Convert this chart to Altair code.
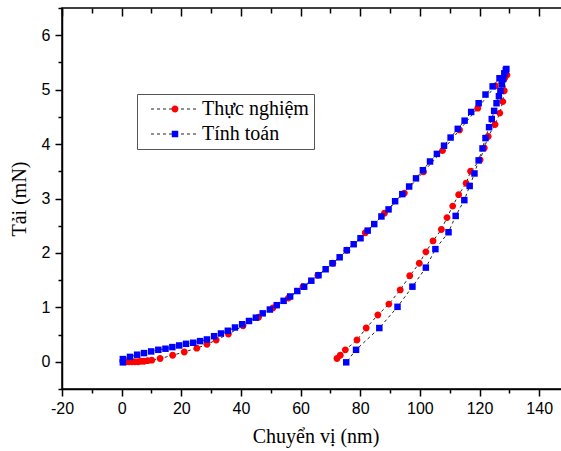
import altair as alt
import pandas as pd

series_names = ["Thực nghiệm", "Tính toán"]

# Thực nghiệm (experiment): loading then unloading
exp_load_x = [0.5, 1.5, 2.5, 3.5, 4.5, 5.5, 6.5, 7.5, 8.7, 10.1, 12.9, 17.1, 21.0, 25.2, 28.6, 31.7,
              35.8, 40.7, 45.9, 50.7, 55.9, 60.8, 65.8, 70.8, 75.5, 81.7, 88.1, 94.8, 101.2, 107.6,
              113.3, 119.4, 125.3, 128.5]
exp_load_y = [0.00, 0.00, 0.00, 0.00, 0.00, 0.00, 0.01, 0.01, 0.02, 0.03, 0.06, 0.12, 0.18, 0.25, 0.32, 0.40,
              0.51, 0.66, 0.82, 0.99, 1.17, 1.38, 1.59, 1.81, 2.05, 2.37, 2.73, 3.10, 3.49, 3.88,
              4.26, 4.66, 5.07, 5.22]
exp_unload_x = [129.2, 128.3, 127.8, 126.8, 125.2, 122.9, 121.6, 120.2, 117.0, 115.5, 113.0, 111.0, 109.1,
                107.2, 104.4, 102.0, 99.8, 96.6, 93.4, 89.6, 85.9, 82.0, 78.9, 75.0, 73.3, 72.2]
exp_unload_y = [5.27, 4.98, 4.78, 4.57, 4.36, 4.14, 3.93, 3.71, 3.50, 3.28, 3.07, 2.86, 2.65,
                2.43, 2.22, 2.02, 1.81, 1.58, 1.32, 1.06, 0.86, 0.62, 0.40, 0.22, 0.12, 0.06]

# Tính toán (calculation): loading then unloading
calc_load_x = [0.4, 0.4, 2.8, 5.2, 7.5, 9.9, 12.3, 14.7, 17.0, 19.3, 21.6, 24.0, 26.3, 28.6, 31.0, 33.3,
               35.6, 38.0, 40.4, 42.7, 45.0, 47.3, 49.7, 52.0, 54.3, 56.5, 58.9, 61.2, 63.6, 66.0,
               68.4, 70.7, 73.1, 75.5, 77.8, 80.1, 82.5, 84.7, 87.1, 89.5, 91.7, 94.1, 96.4, 98.7,
               101.0, 103.4, 105.7, 108.1, 110.3, 112.7, 115.0, 117.2, 119.7, 122.0, 124.4, 126.7, 128.8]
calc_load_y = [-0.01, 0.05, 0.09, 0.13, 0.16, 0.19, 0.22, 0.24, 0.27, 0.30, 0.33, 0.35, 0.38, 0.41, 0.47, 0.52,
               0.57, 0.63, 0.69, 0.75, 0.81, 0.89, 0.96, 1.04, 1.12, 1.20, 1.30, 1.38, 1.49, 1.59,
               1.70, 1.81, 1.92, 2.05, 2.16, 2.27, 2.41, 2.53, 2.67, 2.80, 2.95, 3.08, 3.22, 3.37,
               3.52, 3.68, 3.82, 3.97, 4.12, 4.28, 4.43, 4.59, 4.75, 4.91, 5.06, 5.21, 5.36]
calc_unload_x = [129.0, 128.3, 127.9, 127.5, 127.0, 126.5, 125.7, 124.9, 124.1, 123.2, 122.0, 121.0, 119.7,
                 118.3, 116.7, 114.9, 112.0, 109.6, 105.2, 102.0, 97.5, 92.5, 86.4, 78.6, 75.3]
calc_unload_y = [5.38, 5.30, 5.20, 5.10, 4.98, 4.88, 4.75, 4.61, 4.46, 4.31, 4.11, 3.92, 3.70,
                 3.46, 3.23, 2.97, 2.68, 2.38, 2.07, 1.73, 1.38, 1.01, 0.62, 0.22, -0.01]

x_ticks = list(range(-20, 151, 10))
y_ticks = [v / 2 for v in range(-1, 14)]

rows = []
for name, xs, ys in [(series_names[0], exp_load_x + exp_unload_x, exp_load_y + exp_unload_y),
                     (series_names[1], calc_load_x + calc_unload_x, calc_load_y + calc_unload_y)]:
    for i, (xv, yv) in enumerate(zip(xs, ys)):
        rows.append({"series": name, "leg": name, "x": xv, "y": yv, "idx": i})
df = pd.DataFrame(rows)

# marker shapes (unit paths, drawn at symbol size 144 -> scale 6 px)
CIRCLE = "M-0.57,0A0.57,0.57,0,1,1,0.57,0A0.57,0.57,0,1,1,-0.57,0Z"
SQUARE = "M-0.54,-0.54H0.54V0.54H-0.54Z"
DASH_LINE = "M-4,0H4"

xscale = alt.Scale(domain=[-20, 150], nice=False, zero=False)
yscale = alt.Scale(domain=[-0.5, 6.5], nice=False, zero=False)

common_axis = dict(grid=False, tickColor="black", tickWidth=1.5, domainColor="black", domainWidth=1.5,
                   labelFont="Liberation Sans", labelFontSize=16, labelColor="black",
                   titleFont="Liberation Serif", titleFontSize=20, titleFontWeight="normal",
                   titleColor="black", labelOverlap=False, labelFlush=False)

bottom_axis = alt.Axis(orient="bottom", values=x_ticks,
                       labelExpr="datum.value % 20 == 0 ? toString(datum.value) : ''",
                       tickSize={"condition": {"test": "datum.value % 20 == 0", "value": 7}, "value": 4},
                       labelPadding=4, titlePadding=10, **common_axis)
left_axis = alt.Axis(orient="left", values=y_ticks,
                     labelExpr="datum.value % 1 == 0 ? toString(datum.value) : ''",
                     tickSize={"condition": {"test": "datum.value % 1 == 0", "value": 7}, "value": 4},
                     labelPadding=5, titlePadding=12, **common_axis)

top_major = alt.Axis(orient="top", values=list(range(-20, 151, 20)), labels=False, domain=False,
                     tickSize=8, offset=-8, tickColor="black", tickWidth=1.5, grid=False, title=None)
top_minor = alt.Axis(orient="top", values=list(range(-10, 151, 20)), labels=False, domain=False,
                     tickSize=5, offset=-5, tickColor="black", tickWidth=1.5, grid=False, title=None)
right_major = alt.Axis(orient="right", values=list(range(0, 7)), labels=False, domain=False,
                       tickSize=8, offset=-8, tickColor="black", tickWidth=1.5, grid=False, title=None)

legend_common = dict(orient="none", legendX=75, legendY=86, title=None,
                     labelFont="Liberation Serif", labelFontSize=20, padding=5, rowPadding=5,
                     symbolOffset=23, labelOffset=17, symbolSize=144)

legend_lines = alt.Legend(symbolType=DASH_LINE, symbolStrokeWidth=1, symbolStrokeColor="#222",
                          symbolDash=[3, 4], labelColor="black", strokeColor="#555", **legend_common)
legend_points = alt.Legend(symbolStrokeWidth=0, labelOpacity=0, **legend_common)

lines = alt.Chart(df).mark_line(color="#222", strokeWidth=1).encode(
    x=alt.X("x:Q", scale=xscale, axis=bottom_axis, title="Chuyển vị (nm)"),
    y=alt.Y("y:Q", scale=yscale, axis=left_axis, title="Tải (mN)"),
    strokeDash=alt.StrokeDash("leg:N", scale=alt.Scale(range=[[3, 3], [3, 3]]),
                              legend=legend_lines),
    order="idx:Q",
)

points = alt.Chart(df).mark_point(filled=True, opacity=1, size=144).encode(
    x=alt.X("x:Q", scale=xscale, axis=top_major),
    y=alt.Y("y:Q", scale=yscale, axis=right_major),
    color=alt.Color("series:N", scale=alt.Scale(domain=series_names, range=["#ff0000", "#0000ff"]),
                    legend=legend_points),
    shape=alt.Shape("series:N", scale=alt.Scale(domain=series_names, range=[CIRCLE, SQUARE]),
                    legend=legend_points),
)

minor = alt.Chart(df).mark_point(opacity=0).encode(
    x=alt.X("x:Q", scale=xscale, axis=top_minor),
    y=alt.Y("y:Q", scale=yscale, axis=None),
)

chart = alt.layer(lines, points, minor).resolve_axis(x="independent", y="independent").properties(
    width=507, height=381,
    autosize=alt.AutoSizeParams(type="none"),
    padding={"left": 62, "top": 8, "right": -8, "bottom": 62},
    background="white",
).configure_view(stroke="black", strokeWidth=1.5)

chart.save("out.html", embed_options={"renderer": "svg", "actions": False})
